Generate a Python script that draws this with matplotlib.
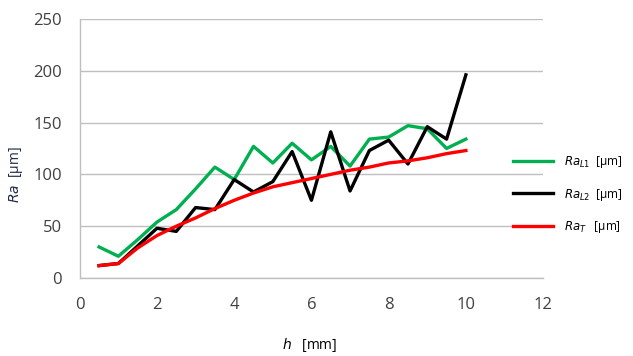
import matplotlib
matplotlib.use("Agg")
import matplotlib.pyplot as plt

h = [0.5, 1, 1.5, 2, 2.5, 3, 3.5, 4, 4.5, 5, 5.5, 6, 6.5, 7, 7.5, 8, 8.5, 9, 9.5, 10]
ra_l1 = [30, 21, 37, 54, 66, 86, 107, 95, 127, 111, 130, 114, 127, 108, 134, 136, 147, 144, 125, 134]
ra_l2 = [12, 14, 31, 48, 45, 68, 66, 95, 83, 93, 122, 75, 141, 84, 123, 133, 110, 146, 134, 196]
ra_t = [12, 14, 29, 41, 50, 58, 67, 75, 82, 88, 92, 96, 100, 104, 107, 111, 113, 116, 120, 123]

x_ticks = [0, 2, 4, 6, 8, 10, 12]
y_ticks = [0, 50, 100, 150, 200, 250]

plt.rcParams['font.family'] = ['Open Sans', 'DejaVu Sans']
plt.rcParams['mathtext.fontset'] = 'dejavusans'

fig = plt.figure(figsize=(6.33, 3.56), dpi=100)
ax = fig.add_axes([0.126, 0.219, 0.732, 0.728])

ax.plot(h, ra_l1, color='#00b050', lw=2.4, label=r'$Ra_{L1}$  [μm]')
ax.plot(h, ra_l2, color='black', lw=2.4, label=r'$Ra_{L2}$  [μm]')
ax.plot(h, ra_t, color='#ff0000', lw=2.4, label=r'$Ra_{T}$   [μm]')

ax.set_xlim(0, 12)
ax.set_ylim(0, 250)
ax.set_xticks(x_ticks)
ax.set_yticks(y_ticks)
ax.tick_params(length=0, labelsize=12, colors='#404040')
ax.tick_params(axis='y', pad=13)
ax.tick_params(axis='x', pad=14)
ax.yaxis.grid(True, color='#bfbfbf', lw=1)
ax.set_axisbelow(True)
for s in ['top', 'right']:
    ax.spines[s].set_visible(False)
for s in ['left', 'bottom']:
    ax.spines[s].set_color('#bfbfbf')
    ax.spines[s].set_linewidth(1)

fig.text(0.49, 0.031, r'$h$   [mm]', fontsize=10, ha='center', va='center')
fig.text(0.025, 0.511, r'$Ra$  [μm]', fontsize=10, ha='center', va='center',
         rotation=90, color='#1f2a44')

leg = ax.legend(loc='center left', bbox_to_anchor=(0.935, 0.322), frameon=False,
                fontsize=8.5, handlelength=3.4, labelspacing=1.42, handletextpad=0.9,
                borderpad=0, borderaxespad=0)

fig.savefig('out.png', dpi=100)
